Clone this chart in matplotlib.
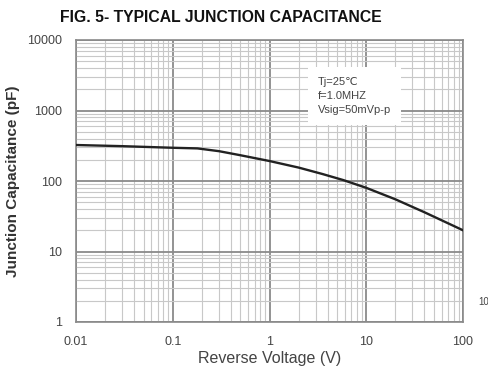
import matplotlib.pyplot as plt
import numpy as np

voltage = [0.01, 0.03, 0.1, 0.18, 0.3, 0.5, 1, 2, 3.5, 5.8, 10, 20, 40, 100]
capacitance = [324, 312, 296, 290, 265, 232, 192, 155, 126, 103, 80, 55, 36, 20]

plt.rcParams["font.family"] = ["Liberation Sans", "DejaVu Sans"]

fig = plt.figure(figsize=(4.89, 3.79), dpi=100)
ax = fig.add_axes([76/489, 1-322/379, (463-76)/489, (322-40)/379])

ax.plot(voltage, capacitance, color="#222222", lw=1.7, zorder=3)
ax.set_xscale("log")
ax.set_yscale("log")
ax.set_xlim(0.01, 100)
ax.set_ylim(1, 10000)

ax.grid(which="major", color="#8a8a8a", lw=1.3)
ax.grid(which="minor", color="#c8c8c8", lw=0.8)
ax.set_axisbelow(True)
for s in ax.spines.values():
    s.set_color("#8a8a8a")
    s.set_linewidth(1.2)
ax.tick_params(which="both", length=0, colors="#444444", labelsize=9, pad=10)
ax.set_xticks([0.01, 0.1, 1, 10, 100])
ax.set_xticklabels(["0.01", "0.1", "1", "10", "100"])
ax.set_yticks([1, 10, 100, 1000, 10000])
ax.set_yticklabels(["1", "10", "100", "1000", "10000"])

ax.set_xlabel("Reverse Voltage (V)", fontsize=11.5, color="#444444", labelpad=2)
ax.set_ylabel("Junction Capacitance (pF)", fontsize=11, color="#333333",
              fontweight="bold", labelpad=5)
fig.text(60/489, 1-18/379, "FIG. 5- TYPICAL JUNCTION CAPACITANCE", fontsize=11.3,
         fontweight="bold", va="center", ha="left", color="#111111")

ax.text(0.625, 0.735, "Tj=25\u2103\nf=1.0MHZ\nVsig=50mVp-p", transform=ax.transAxes,
        fontsize=8, color="#444444", linespacing=1.5, va="bottom",
        family=["Liberation Sans", "DejaVu Sans"],
        bbox=dict(boxstyle="square,pad=0.9", fc="white", ec="none"), zorder=4)
fig.text(478/489, 1-302/379, "10", fontsize=7, color="#444444", va="center")

fig.savefig("out.png", dpi=100)
